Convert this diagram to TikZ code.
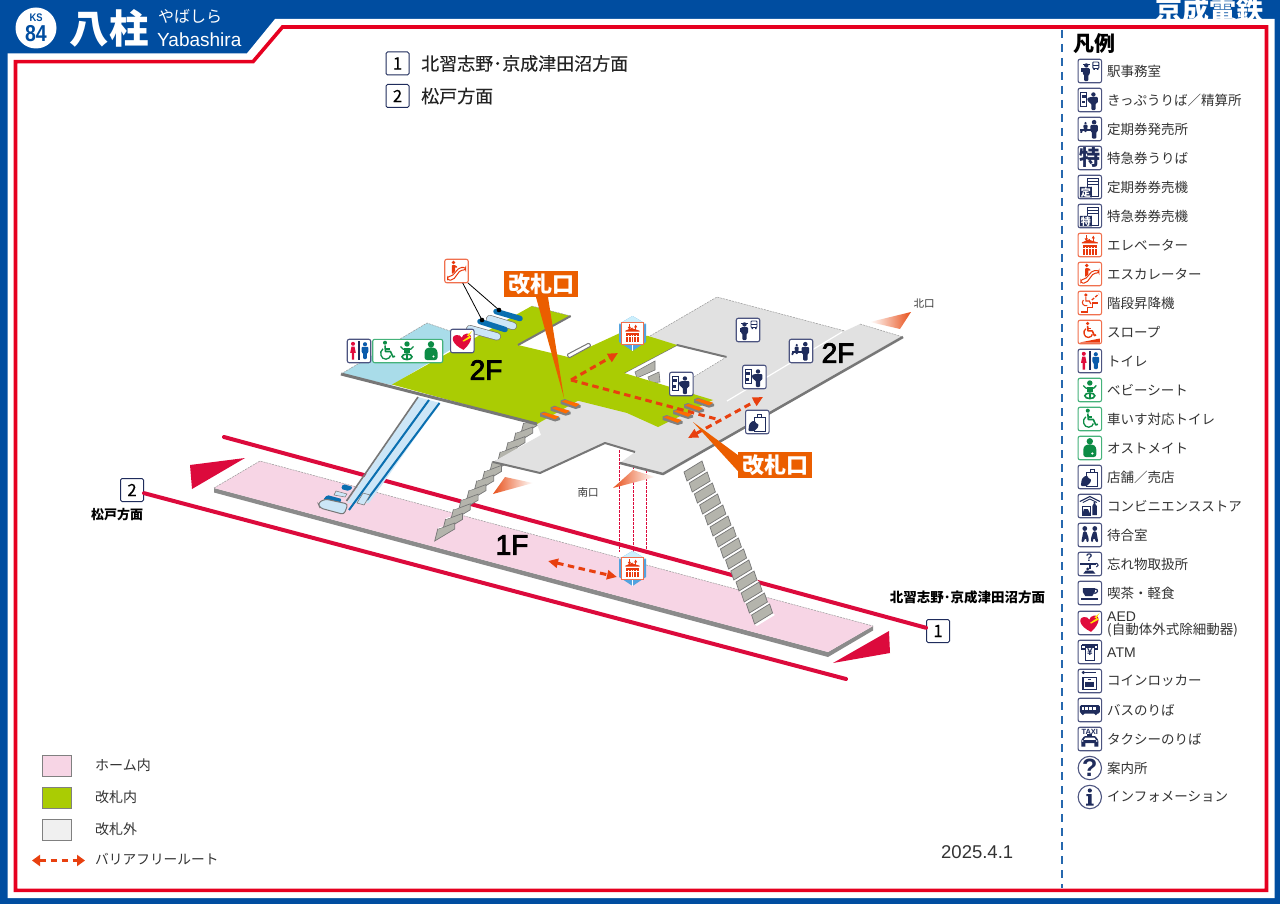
\documentclass[tikz,border=0pt]{standalone}
\usepackage{fontspec}
\setmainfont{Noto Sans CJK JP}
\newfontfamily\latin{Liberation Sans}
\newfontfamily\heavy[FakeBold=3]{Liberation Sans}
\newfontfamily\medium[FakeBold=0.25]{Noto Sans CJK JP}
\usetikzlibrary{arrows.meta,shapes.geometric}
\definecolor{keiseiblue}{HTML}{004DA0}
\definecolor{framered}{HTML}{E60020}
\definecolor{trackred}{HTML}{DC0A3C}
\definecolor{navyc}{HTML}{1F2C5C}
\definecolor{framenavy}{HTML}{4C5480}
\definecolor{framegreen}{HTML}{45B27A}
\definecolor{glyphgreen}{HTML}{0C8C45}
\definecolor{frameorange}{HTML}{F0704E}
\definecolor{glyphred}{HTML}{E8380D}
\definecolor{textc}{HTML}{333333}
\definecolor{floorgray}{HTML}{E1E1E1}
\definecolor{edgegray}{HTML}{777777}
\definecolor{floorgreen}{HTML}{AACC03}
\definecolor{floorblue}{HTML}{A9DCE9}
\definecolor{platpink}{HTML}{F7D5E5}
\definecolor{callout}{HTML}{EB5E00}
\definecolor{escblue}{HTML}{0A6FB0}
\definecolor{esclight}{HTML}{CCE6F7}
\definecolor{stepgray}{HTML}{B4B4AC}
\definecolor{routec}{HTML}{E8400F}
\definecolor{wedgec}{HTML}{E8501A}
\definecolor{wcred}{HTML}{E00B3C}
\definecolor{wcblue}{HTML}{0B5CAB}
\newcommand\fs[1]{\fontsize{#1}{#1}\selectfont}
\tikzset{
  x=1pt,y=-1pt,
  lbl/.style={anchor=west,inner sep=0pt,text=textc,font=\fs{13.5}},
  botlbl/.style={anchor=west,inner sep=0pt,text=textc,font=\fs{14}},
  numbox/.style={draw=navyc,fill=white,line width=1pt,rounded corners=1.5pt,minimum size=23pt,inner sep=0pt,font=\medium\fs{17},text=black},
  toplbl/.style={anchor=west,inner sep=0pt,text=textc!70!black,font=\medium\fs{18}},
  stationlbl/.style={inner sep=0pt,text=black,font=\fs{13.5}\bfseries},
  exitlbl/.style={inner sep=0pt,text=textc,font=\fs{10.5}},
  floorlbl/.style={inner sep=0pt,text=black,font=\heavy\fs{28}},
  calloutbox/.style={fill=callout,minimum width=74pt,minimum height=26pt,inner sep=0pt,text=white,font=\fs{22}\bfseries},
  track/.style={draw=trackred,line width=4pt,line cap=round},
  route/.style={draw=routec,line width=3pt,dash pattern=on 6.5pt off 4.5pt,>={Triangle[length=10pt,width=9pt]}},
  floorline/.style={draw=edgegray,line width=3pt,line join=round},
  farline/.style={draw=gray!80,line width=.5pt,dash pattern=on 2pt off 1pt},
  fnavy/.style={draw=framenavy,fill=white,line width=1.1pt,rounded corners=2pt},
  fred/.style={draw=frameorange,fill=white,line width=1.1pt,rounded corners=2pt},
  fgreen/.style={draw=framegreen,fill=white,line width=1.1pt,rounded corners=2pt},
  leader/.style={draw=black,line width=.8pt},
  dropline/.style={draw=trackred,line width=.7pt,dash pattern=on 2.5pt off 1.5pt},
  swatch/.style={draw=gray,line width=.8pt,minimum width=29pt,minimum height=21pt,inner sep=0pt},
}
% ---------- glyphs, all drawn about (0,0) in a +-11.5 box
\newcommand\gPerson[4]{\begin{scope}[shift={(#1,#2)},scale=#3]
  \fill[#4] (0,-7.4) circle[radius=2.3];
  \fill[#4,rounded corners=1pt] (-3.7,-4.6)--(3.7,-4.6)--(3.7,2)--(2.2,2)--(2.2,9)--(-2.2,9)--(-2.2,2)--(-3.7,2)--cycle;
\end{scope}}
\newcommand\gOffice{%
  \gPerson{-3.5}{1.5}{.95}{navyc}
  \fill[navyc] (-7,-7.2) rectangle (0,-6);
  \fill[navyc] (-8.5,-2.5) rectangle (-3,1.5);
  \draw[navyc,line width=.9pt,rounded corners=.8pt] (3,-9)rectangle(9,-2.5);
  \fill[navyc] (3,-6)rectangle(9,-5);
  \fill[navyc] (3.5,-2.5)rectangle(5,-1) (7,-2.5)rectangle(8.5,-1);}
\newcommand\gKippu{%
  \draw[navyc,line width=.9pt] (-9,-7.5)rectangle(-3,6);
  \fill[navyc] (-8,-5)rectangle(-4,-2);
  \fill[navyc] (-8,1)rectangle(-5,3.5);
  \gPerson{3.6}{1.5}{.95}{navyc}
  \fill[navyc,rounded corners=1pt] (-2.5,-2)--(1,-3)--(8,-3)--(8,3)--(-1,3)--(-1,1)--(-2.5,1)--cycle;}
\newcommand\gTeiki{%
  \gPerson{4.3}{.6}{1}{navyc}
  \gPerson{-4.3}{-1.8}{.55}{navyc}
  \fill[navyc] (-9.5,.2)rectangle(1.5,1.8);
  \fill[navyc] (-9.5,1.8)--(-7,1.8)--(-8,4)--(-9.5,4)--cycle;}
\newcommand\gToku{\path node[inner sep=0pt,text=navyc,font=\fs{21}\bfseries] (gtoku) at (0,-.5) {特};}
\newcommand\gMachine[1]{%
  \draw[navyc,line width=.9pt] (-2,-6)rectangle(8.5,9);
  \draw[navyc,line width=.9pt] (-2,-9)rectangle(8.5,-3);
  \fill[navyc] (-10,0)--(2,0)--(2,-.5)--(2,10.5)--(-10,10.5)--cycle;
  \path node[inner sep=0pt,text=white,font=\fs{10}\bfseries] (gmach) at (-4,5.4) {#1};}
\newcommand\gElev[1]{%
  \draw[#1,line width=1.2pt,-{Latex[length=3pt,width=3.5pt]}] (-3.5,-9.5)--(-3.5,-3.5);
  \draw[#1,line width=1.2pt,-{Latex[length=3pt,width=3.5pt]}] (3.5,-3.5)--(3.5,-9.5);
  \fill[#1] (-8,-2.5)--(0,-6)--(0,-5)--(8,-2.5)--(8,-1.5)--(-8,-1.5)--cycle;
  \fill[#1] (-7,0)rectangle(7,10);
  \foreach \xx in {-4.5,-1.5,1.5,4.5}{\fill[white] (\xx-.5,2.5)rectangle(\xx+.5,10);}
  \fill[white] (-7,3.5)rectangle(7,4);}
\newcommand\gEsc{%
  \draw[glyphred,line width=1pt,rounded corners=2pt] (-9,9)--(-3.5,9)--(4,-1)--(9,-1)--(9,-3.5)--(3,-3.5)--(-5,5.5)--(-9,5.5)--cycle;
  \fill[glyphred] (-3,-8.5) circle[radius=1.9];
  \fill[glyphred,rounded corners=.6pt] (-4.6,-5.8)--(-1.2,-5.8)--(1,-4)--(.3,-3)--(-1.4,-4)--(-1.5,.5)--(-4.6,3)--cycle;}
\newcommand\gLift{%
  \draw[glyphred,line width=1.1pt] (-9,9)--(-2,9)--(-2,4.5)--(3,4.5)--(3,0)--(8,0);
  \fill[glyphred] (-4,-8) circle[radius=1.8];
  \draw[glyphred,line width=1.1pt] (-4,-6)--(-4,-2)--(-.5,-2)--(1,1);
  \draw[glyphred,line width=1pt] (-6.5,-3) .. controls (-9,0) and (-6,4) .. (-2.5,2.5);
  \draw[glyphred,line width=1.3pt,dash pattern=on 3pt off 1.5pt] (2,-3)--(9,-9);}
\newcommand\gWheel[1]{%
  \fill[#1] (-2,-8.3) circle[radius=2];
  \draw[#1,line width=1.6pt,line join=round] (-2,-5.5)--(-1.5,.5)--(3.5,.5)--(6,6)--(8,5.2);
  \draw[#1,line width=1.3pt] (-2,-2)--(2.5,-2);
  \draw[#1,line width=1.3pt] (-4,-2.2) .. controls (-8.5,1) and (-6,8.5) .. (-1,8.2) .. controls (1.5,8.2) and (3.5,6) .. (3.5,4.5);}
\newcommand\gSlope{%
  \begin{scope}[shift={(-.5,-1.5)},scale=.85]\gWheel{glyphred}\end{scope}
  \fill[glyphred] (-10,10.5)--(10,6.5)--(10,10.5)--cycle;}
\newcommand\gToilet{%
  \fill[wcred] (-6,-7.2) circle[radius=2];
  \fill[wcred] (-8.8,1.8)--(-7.5,-4.5)--(-4.5,-4.5)--(-3.2,1.8)--(-4.8,1.8)--(-4.8,8.5)--(-7.2,8.5)--(-7.2,1.8)--cycle;
  \gPerson{6}{-.1}{.9}{wcblue}
  \fill[navyc] (-.7,-10)rectangle(.7,9);}
\newcommand\gBaby{%
  \fill[glyphgreen] (0,-7) circle[radius=2.7];
  \draw[glyphgreen,line width=1.3pt] (-6.5,-4.5) .. controls (-5,0) and (5,0) .. (6.5,-4.5);
  \fill[glyphgreen] (-3.2,-3.2)rectangle(3.2,1.6);
  \draw[glyphgreen,line width=1.6pt] (0,5.8) ellipse[x radius=5,y radius=2.8];
  \draw[glyphgreen,line width=1.5pt] (0,3)--(0,8.6);}
\newcommand\gOstomate{%
  \fill[glyphgreen] (0,-6.7) circle[radius=3.2];
  \fill[glyphgreen,rounded corners=2.5pt] (-6.5,9)--(-6.5,-1)--(-3,-3.6)--(3,-3.6)--(6.5,-1)--(6.5,9)--cycle;
  \fill[white] (2.5,5.5) circle[radius=1.2];}
\newcommand\gShop{%
  \draw[navyc,line width=1pt] (-3,-4.5)rectangle(8,9);
  \draw[navyc,line width=1pt] (.5,-4.5)--(.5,-7.5)--(4.5,-7.5)--(4.5,-4.5);
  \fill[navyc,rounded corners=1pt] (-9,9)--(-8,2)--(-5,-1)--(-2,-1)--(-1,2)--(1,1.5)--(1,5)--(-3,9)--cycle;}
\newcommand\gConv{%
  \draw[navyc,line width=1.1pt] (-10,-4.5)--(0,-9.5)--(10,-4.5);
  \draw[navyc,line width=.9pt] (-7,-3.5)--(0,-7)--(7,-3.5);
  \fill[navyc] (2.5,9)--(2.5,0)--(3.7,-2)--(3.7,-4)--(5.5,-4)--(5.5,-2)--(7,0)--(7,9)--cycle;
  \draw[navyc,line width=1pt] (-7.5,0)rectangle(1,9);
  \fill[navyc] (-7.5,9)--(-6,3)--(-2,3)--(1,9)--cycle;}
\newcommand\gWait{%
  \fill[navyc] (-5,-6.5) circle[radius=2.4] (5,-6.5) circle[radius=2.4];
  \fill[navyc,rounded corners=1pt] (-8.5,7)--(-6.5,-3.6)--(-3.5,-3.6)--(-1.2,3)--(-1.2,7)--(-3.4,7)--(-3.4,3.5)--(-5,3.5)--(-6,7)--cycle;
  \fill[navyc,rounded corners=1pt] (8.5,7)--(6.5,-3.6)--(3.5,-3.6)--(1.2,3)--(1.2,7)--(3.4,7)--(3.4,3.5)--(5,3.5)--(6,7)--cycle;}
\newcommand\gLost{%
  \path node[inner sep=0pt,text=navyc,font=\latin\fs{11}\bfseries] (glost) at (-.5,-6) {?};
  \fill[navyc] (-9.5,-.8)rectangle(6,.7);
  \draw[navyc,line width=1pt] (6,-.8) .. controls (9,-.5) and (9,3) .. (6.5,3);
  \fill[navyc] (-.7,.7)rectangle(.7,5);
  \fill[navyc] (-2,5) circle[radius=1.6];
  \fill[navyc] (-6.5,9.5)--(-4,6.5)--(3,6.5)--(5.5,9.5)--cycle;}
\newcommand\gCup{%
  \fill[navyc] (-7,-5)--(5,-5)--(5,-1)--(2.5,3)--(-4.5,3)--(-7,-1)--cycle;
  \draw[navyc,line width=1.2pt] (5,-4) .. controls (9,-4) and (8.5,0) .. (4.5,.5);
  \fill[navyc] (-9,5)rectangle(8,6.8);}
\newcommand\gHeart{%
  \begin{scope}[rotate=8,scale=1.12]
  \fill[wcred] (0,8) .. controls (-10,1.5) and (-10,-6) .. (-4.5,-6) .. controls (-2.3,-6) and (-.6,-4.8) .. (0,-3) .. controls (.6,-4.8) and (2.3,-6) .. (4.5,-6) .. controls (10,-6) and (10,1.5) .. (0,8) -- cycle;
  \end{scope}
  \fill[yellow!90!orange] (9.8,-10)--(4.5,-5.5)--(7,-4.8)--(0,0)--(1.5,.5)--(9,-3.5)--(6.8,-5.5)--cycle;}
\newcommand\gAtm{%
  \draw[navyc,line width=1.1pt] (-8,-7)--(8,-7)--(8,-3);
  \draw[navyc,line width=1.1pt] (-8,-7)--(-8,-3)--(-5,-3);
  \draw[navyc,line width=1.1pt] (5,-3)--(8,-3);
  \fill[navyc] (-5,-7)rectangle(5,9);
  \fill[white] (-3.7,-4.5)rectangle(3.7,7.5);
  \path node[inner sep=0pt,text=navyc,font=\latin\fs{10}\bfseries] (gatm) at (0,0) {¥};}
\newcommand\gLocker{%
  \fill[navyc] (-6.5,-8.5) circle[radius=1.7];
  \fill[navyc] (-5,-9.2)rectangle(6,-7.8);
  \fill[navyc] (-7.5,-4.5)rectangle(7.5,9);
  \fill[white] (-5.8,-3)rectangle(5.8,7.5);
  \fill[navyc] (-4.5,.5)rectangle(4.5,6.2);
  \fill[navyc] (-1.5,-2.5)rectangle(1.5,-1);}
\newcommand\gBus{%
  \fill[navyc,rounded corners=1.5pt] (-10,-5)rectangle(10,3.5);
  \foreach \xx in {-8.3,-4.6,-.9,2.8}{\fill[white] (\xx,-3)rectangle(\xx+2.9,0);}
  \fill[navyc] (-7,3.5)circle[radius=1.8] (6,3.5)circle[radius=1.8];}
\newcommand\gTaxi{%
  \path node[inner sep=0pt,text=navyc,font=\latin\fs{7.5}\bfseries] (gtaxi) at (0,-7.5) {TAXI};
  \fill[navyc] (-2.5,-4.8)rectangle(2.5,-3);
  \fill[navyc,rounded corners=1pt] (-8.5,4)--(-8.5,1)--(-5.5,-3)--(5.5,-3)--(8.5,1)--(8.5,4)--cycle;
  \fill[white] (-4.5,-1.5)--(4.5,-1.5)--(6,.8)--(-6,.8)--cycle;
  \fill[navyc] (-8.5,3)rectangle(-4.5,7.5) (4.5,3)rectangle(8.5,7.5);
  \fill[white] (-7,2)circle[radius=.9] (7,2)circle[radius=.9];}
\newcommand\gQuest{\path node[inner sep=0pt,text=navyc,font=\latin\fs{25}\bfseries] (gq) at (0,0) {?};}
\newcommand\gInfo{%
  \fill[navyc] (0,-6.5) circle[radius=2.1];
  \fill[navyc] (-3.5,-2.8)--(1.7,-2.8)--(1.7,6.5)--(3.8,6.5)--(3.8,8.5)--(-3.8,8.5)--(-3.8,6.5)--(-1.7,6.5)--(-1.7,-1)--(-3.5,-1)--cycle;}
% ---------- icon placement
\newcommand\icon[5][23.5]{\begin{scope}[shift={(#3,#4)}]
  \path[#2] (-#1/2,-#1/2) rectangle (#1/2,#1/2);
  #5
\end{scope}}
\newcommand\legrow[4]{\icon{#2}{1089.8}{#1}{#3}
  \node[lbl] (leg#1) at (1107,#1) {#4};}
\newcommand\legcirc[3]{\begin{scope}[shift={(1089.8,#1)}]
  \draw[framenavy,fill=white,line width=1.1pt] (0,0) circle[radius=11.7];
  #2
\end{scope}
  \node[lbl] (leg#1) at (1107,#1) {#3};}
\newcommand\gatebar[2]{\fill[gray] (#1-10,#2-3.5)--(#1-6,#2-5)--(#1+10,#2+1.2)--(#1+10,#2+3.5)--(#1+5,#2+5)--(#1-10,#2)--cycle;
  \fill[orange!85!red] (#1-9,#2-2.6)--(#1-5.5,#2-4)--(#1+9,#2)--(#1+5,#2+2.8)--cycle;}
\newcommand\elevcube[2]{\begin{scope}[shift={(#1,#2)}]
  \fill[cyan!70!blue!70] (-13.5,-9)--(0,-17)--(13.5,-9)--(13.5,9)--(0,18)--(-13.5,9)--cycle;
  \fill[cyan!20] (-13.5,-9)--(0,-17)--(13.5,-9)--cycle;
  \fill[white] (-.4,9)rectangle(.4,18);
  \path[draw=frameorange,fill=white,line width=1pt] (-11,-11)rectangle(11,11);
  \begin{scope}[scale=.9]\gElev{glyphred}\end{scope}
\end{scope}}
\begin{document}
\begin{tikzpicture}
\useasboundingbox (0,0) rectangle (1280,904);
% ---------- frame
\fill[keiseiblue] (0,0) rectangle (1280,904);
\node[inner sep=0pt,text=white,font=\fs{27}\bfseries] (company) at (1209,10) {京成電鉄};
\fill[white] (7.5,53.3)--(247,53.3)--(275,19)--(1274.5,19)--(1274.5,898)--(7.5,898)--cycle;
\draw[framered,line width=3.6pt,line join=miter] (15.5,61.7)--(253,61.7)--(282.5,27)--(1266.5,27)--(1266.5,890.3)--(15.5,890.3)--cycle;
\fill[white] (36,28) circle[radius=20.5];
\node[inner sep=0pt,text=keiseiblue,font=\latin\fs{11}\bfseries,xscale=.85] (ks) at (36,17.5) {KS};
\node[inner sep=0pt,text=keiseiblue,font=\latin\fs{23}\bfseries,xscale=.85] (num) at (36,34) {84};
\node[inner sep=0pt,text=white,font=\fs{39.5}\bfseries] (kanji) at (109,28) {八柱};
\node[anchor=west,inner sep=0pt,text=white,font=\fs{16}] (kana) at (158,16.5) {やばしら};
\node[anchor=west,inner sep=0pt,text=white,font=\latin\fs{19}] (roman) at (157,40) {Yabashira};
\draw[keiseiblue!85!white,line width=1.8pt,dash pattern=on 8pt off 6pt] (1062,30)--(1062,888);
% ---------- direction list
\node[numbox] (top1) at (397.5,63.5) {1};
\node[toplbl] (top1t) at (421,63.5) {北習志野･京成津田沼方面};
\node[numbox] (top2) at (397.5,96) {2};
\node[toplbl] (top2t) at (421,96) {松戸方面};
% ---------- tracks
\node[numbox] (b1) at (938,631) {1};
\node[numbox] (b2) at (132,490) {2};
\coordinate (t1) at (224,437);
\coordinate (t2) at (846,679);
\draw[track] (t1)--(b1);
\draw[track] (b2)--(t2);
\fill[trackred] (245,458)--(190,465)--(192,489)--cycle;
\fill[trackred] (833,663)--(889,631)--(890,653)--cycle;
\node[stationlbl,font=\fs{13}\bfseries] (b2t) at (117,514.5) {松戸方面};
\node[stationlbl] (b1t) at (967.5,597) {北習志野･京成津田沼方面};
% ---------- platform
\fill[edgegray!85] (214,488)--(828,652)--(873,626)--(873,630.5)--(828,657)--(214,492.5)--cycle;
\fill[platpink] (260,461)--(873,626)--(828,652)--(214,488)--cycle;
\draw[farline] (214,488)--(260,461)--(873,626);
\node[floorlbl] (f1) at (512,545) {1F};
% ---------- dropped elevator shaft
\draw[dropline] (619,450)--(619,552);
\draw[dropline] (633,462)--(633,552);
\draw[dropline] (646,466)--(646,552);
% ---------- long escalator
\fill[esclight] (418,397)--(440,403)--(369,503)--(347,503)--cycle;
\draw[edgegray,line width=1.6pt] (418,397)--(346.5,501);
\draw[escblue,line width=2pt] (429,400)--(349,510);
\draw[escblue,line width=2pt] (439.5,403)--(367,500);
\fill[esclight,draw=edgegray,line width=.6pt] (363,493)--(370,495)--(364,505)--(357,503)--cycle;
\fill[escblue,rounded corners=1.5pt] (343,484)--(353,487)--(349,491)--(341,489)--cycle;
\fill[esclight,draw=edgegray,line width=.5pt] (336,491)--(347,494)--(345,497)--(334,495)--cycle;
\fill[escblue,rounded corners=1.5pt] (327,495)--(342,499)--(339,504)--(323,500)--cycle;
\path[fill=esclight,draw=edgegray,line width=1pt,rounded corners=3pt] (325,499)--(348,504)--(344,514.5)--(320,508)--(318,503)--cycle;
% ---------- left stairs
\foreach \i in {11,10,...,0}{
  \pgfmathsetmacro\sx{434.7+\i*7.8}
  \pgfmathsetmacro\sy{541-\i*9.6}
  \path[fill=stepgray,draw=edgegray,line width=.7pt] (\sx,\sy)--(\sx+3,\sy-12)--(\sx+8,\sy-13.5)--(\sx+20,\sy-18)--(\sx+20,\sy-12)--cycle;
  \draw[white,line width=.8pt] (\sx+3.4,\sy-12.7)--(\sx+7.8,\sy-14.2);
}
% ---------- right stairs
\foreach \i in {0,...,13}{
  \pgfmathsetmacro\sx{684+\i*5.2}
  \pgfmathsetmacro\sy{472+\i*11}
  \fill[white] (\sx+3,\sy+9)--(\sx+21,\sy-2)--(\sx+23.2,\sy)--(\sx+5.2,\sy+11)--cycle;
  \path[fill=stepgray,draw=edgegray,line width=.7pt] (\sx,\sy)--(\sx+18,\sy-11)--(\sx+21,\sy-2)--(\sx+3,\sy+9)--cycle;
}
% ---------- gray concourse
\fill[floorgray] (650,336)--(717,297)--(845,331)--(860,324)--(903,337)--(663,474)--(620,463)--(635,452)--(605,443)--(540,473)--(493,462)--(541,435)--(537,424)--(578,400)--cycle;
\draw[floorline,line width=2.5pt] (903,337)--(663,474)--(620,463);
\draw[floorline,line width=2pt] (635,452)--(605,443)--(540,473)--(493,462);
\draw[farline] (650,336)--(717,297)--(845,331);
\draw[farline] (860,324)--(903,337);
\draw[white,line width=1.2pt] (727,401)--(842,332);
% hole
\fill[white] (624,373)--(677,345)--(726.5,357)--(692,378)--(672,390)--cycle;
\draw[floorline,line width=2pt] (677,345)--(726.5,357);
\draw[floorline,line width=1.3pt] (624,373)--(677,345);
\draw[farline] (726.5,357)--(692,378);
\path[fill=stepgray,draw=edgegray,line width=.6pt] (635,372)--(655,361)--(655,370)--(637,378)--cycle;
\path[fill=stepgray,draw=edgegray,line width=.6pt] (648,377)--(659,372)--(660,382)--(650,383)--cycle;
% ---------- light blue area and gate-inside floor
\fill[floorblue] (341,374)--(427,323)--(470,338)--(392,385)--cycle;
\fill[floorgreen] (392,384.5)--(531.7,306)--(570.7,316)--(518,345)--(568,357)--(620,333)--(648,336)--(677,345)--(624,373)--(713,400)--(658,427)--(627,413)--(578,400.7)--(537,424)--cycle;
\draw[floorline,line width=3pt] (341,374)--(537,424);
\draw[floorline,line width=2pt] (570.7,316)--(518,345);
\draw[farline] (341,374)--(427,323)--(470,338);
\draw[farline] (531.7,306)--(570.7,316);
\path[fill=white,draw=edgegray,line width=1pt,rounded corners=1pt] (567,354.5)--(589,343)--(591,346)--(569,358)--cycle;
% ---------- upper escalators
\draw[edgegray,line width=8pt,line cap=round] (490,319)--(513,326);
\draw[esclight,line width=6.6pt,line cap=round] (490,319)--(513,326);
\draw[escblue,line width=5.5pt,line cap=round] (496,311.5)--(520,318.5);
\draw[edgegray,line width=8pt,line cap=round] (470,329)--(497,336.5);
\draw[esclight,line width=6.6pt,line cap=round] (470,329)--(497,336.5);
\draw[escblue,line width=5.5pt,line cap=round] (480,321.5)--(505,329.5);
% ---------- gates
\gatebar{570.7}{404}\gatebar{560.7}{410.7}\gatebar{550}{416.5}
\gatebar{704}{402.7}\gatebar{694}{408}\gatebar{683}{414}\gatebar{672.7}{420}
% ---------- barrier-free routes
\coordinate (r0) at (571,380);
\coordinate (ra) at (618,353);
\coordinate (rb) at (720,420);
\coordinate (rc) at (688,438);
\coordinate (rd) at (763,397);
\coordinate (re) at (548,561);
\coordinate (rf) at (617,577);
\draw[route,->] (r0)--(ra);
\draw[route] (r0)--(rb);
\draw[route,<->] (rc)--(rd);
\draw[route,<->] (re)--(rf);
% ---------- exit wedges
\shade[left color=white,middle color=wedgec!60!white,right color=wedgec] (911,312)--(870,322)--(900,329)--cycle;
\shade[left color=wedgec,middle color=wedgec!60!white,right color=white] (613,488)--(633,470)--(655,477)--cycle;
\shade[left color=wedgec,middle color=wedgec!60!white,right color=white] (493,494)--(505,477)--(533,483)--cycle;
\node[exitlbl] (nexit) at (924,304) {北口};
\node[exitlbl] (sexit) at (588,492.5) {南口};
% ---------- elevators on the map
\elevcube{632.5}{333}
\elevcube{632.5}{568}
% ---------- callouts
\node[calloutbox] (call1) at (541,284) {改札口};
\coordinate (tip1) at (564,398);
\fill[callout] ([xshift=-5pt]call1.south)--([xshift=7pt]call1.south)--(tip1)--cycle;
\node[calloutbox] (call2) at (775,465) {改札口};
\coordinate (tip2) at (693,422);
\fill[callout] ([yshift=10pt]call2.west)--([yshift=-6pt]call2.west)--(tip2)--cycle;
% ---------- icons on the map
\icon{fred}{456.5}{271}{\gEsc}
\coordinate (escdot1) at (482,320);
\coordinate (escdot2) at (499,310);
\draw[leader] (462.7,283)--(escdot1);
\draw[leader] (468,283)--(escdot2);
\fill[black] (escdot1) circle[radius=2.3] (escdot2) circle[radius=2.3];
\icon{fnavy}{359}{351}{\gToilet}
\path[fgreen] (372.7,339.3) rectangle (442.7,362.7);
\begin{scope}[shift={(387,351)}]\gWheel{glyphgreen}\end{scope}
\begin{scope}[shift={(407,351)}]\gBaby\end{scope}
\begin{scope}[shift={(431,351)}]\gOstomate\end{scope}
\icon{fnavy}{462.3}{341}{\gHeart}
\icon{fnavy}{748}{330}{\gOffice}
\icon{fnavy}{801}{351}{\gTeiki}
\icon{fnavy}{754.4}{377}{\gKippu}
\icon{fnavy}{681.3}{384}{\gKippu}
\icon{fnavy}{757.3}{422}{\gShop}
\node[floorlbl] (f2a) at (486,370) {2F};
\node[floorlbl] (f2b) at (838,353) {2F};
% ---------- legend
\node[inner sep=0pt,anchor=west,text=black,font=\fs{21}\bfseries] (legtitle) at (1073,44) {凡例};
\legrow{71}{fnavy}{\gOffice}{駅事務室}
\legrow{100}{fnavy}{\gKippu}{きっぷうりば／精算所}
\legrow{129}{fnavy}{\gTeiki}{定期券発売所}
\legrow{158}{fnavy}{\gToku}{特急券うりば}
\legrow{187}{fnavy}{\gMachine{定}}{定期券券売機}
\legrow{216}{fnavy}{\gMachine{特}}{特急券券売機}
\legrow{245}{fred}{\gElev{glyphred}}{エレベーター}
\legrow{274}{fred}{\gEsc}{エスカレーター}
\legrow{303}{fred}{\gLift}{階段昇降機}
\legrow{332}{fred}{\gSlope}{スロープ}
\legrow{361}{fnavy}{\gToilet}{トイレ}
\legrow{390}{fgreen}{\gBaby}{ベビーシート}
\legrow{419}{fgreen}{\gWheel{glyphgreen}}{車いす対応トイレ}
\legrow{448}{fgreen}{\gOstomate}{オストメイト}
\legrow{477}{fnavy}{\gShop}{店舗／売店}
\legrow{506}{fnavy}{\gConv}{コンビニエンスストア}
\legrow{535}{fnavy}{\gWait}{待合室}
\legrow{564}{fnavy}{\gLost}{忘れ物取扱所}
\legrow{593}{fnavy}{\gCup}{喫茶・軽食}
\icon{fnavy}{1089.8}{623}{\gHeart}
\node[lbl,font=\latin\fs{14}] (legaed) at (1107,617) {AED};
\node[lbl] (legaed2) at (1107,630.5) {(自動体外式除細動器)};
\icon{fnavy}{1089.8}{652}{\gAtm}
\node[lbl,font=\latin\fs{14}] (legatm) at (1107,652.5) {ATM};
\legrow{681}{fnavy}{\gLocker}{コインロッカー}
\legrow{710}{fnavy}{\gBus}{バスのりば}
\legrow{739}{fnavy}{\gTaxi}{タクシーのりば}
\legcirc{768}{\gQuest}{案内所}
\legcirc{797}{\gInfo}{インフォメーション}
% ---------- lower-left key
\node[swatch,fill=platpink] (key1) at (57,766) {};
\node[swatch,fill=floorgreen] (key2) at (57,797.5) {};
\node[swatch,fill=black!6] (key3) at (57,830) {};
\node[botlbl] (key1t) at (95,765) {ホーム内};
\node[botlbl] (key2t) at (95,797) {改札内};
\node[botlbl] (key3t) at (95,829) {改札外};
\node[botlbl,font=\fs{13.7}] (key4t) at (95,859) {バリアフリールート};
\coordinate (ka) at (32,860.5);
\coordinate (kb) at (85,860.5);
\draw[route,<->,>={Triangle[length=8pt,width=11pt]}] (ka)--(kb);
\node[anchor=west,inner sep=0pt,text=textc,font=\latin\fs{18.5}] (date) at (941,852) {2025.4.1};
\end{tikzpicture}
\end{document}
